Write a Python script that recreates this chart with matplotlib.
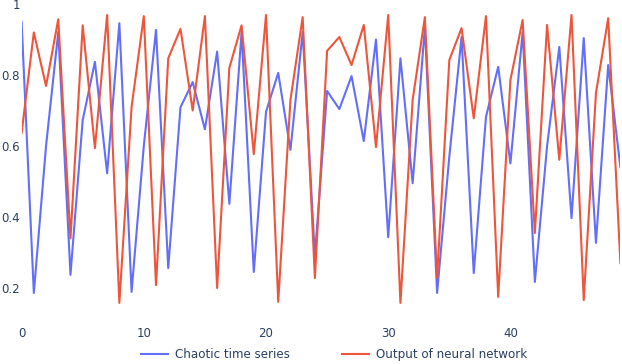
import matplotlib
matplotlib.use("Agg")
import matplotlib.pyplot as plt

# values
steps = list(range(50))
chaotic = [0.95, 0.186, 0.60, 0.921, 0.237, 0.673, 0.837, 0.523, 0.946, 0.189,
           0.60, 0.927, 0.256, 0.709, 0.780, 0.647, 0.866, 0.437, 0.921, 0.245,
           0.696, 0.806, 0.589, 0.921, 0.29, 0.755, 0.704, 0.797, 0.614, 0.90,
           0.343, 0.847, 0.495, 0.935, 0.186, 0.57, 0.907, 0.242, 0.682, 0.823,
           0.551, 0.921, 0.217, 0.60, 0.879, 0.397, 0.904, 0.327, 0.828, 0.54]
network = [0.636, 0.92, 0.769, 0.957, 0.34, 0.94, 0.594, 0.969, 0.158, 0.71,
           0.966, 0.208, 0.847, 0.930, 0.70, 0.966, 0.20, 0.82, 0.94, 0.577,
           0.969, 0.161, 0.73, 0.963, 0.228, 0.868, 0.907, 0.828, 0.941, 0.597,
           0.969, 0.158, 0.73, 0.963, 0.228, 0.842, 0.932, 0.678, 0.966, 0.175,
           0.786, 0.955, 0.355, 0.941, 0.561, 0.969, 0.166, 0.749, 0.96, 0.27]
xticks = [0, 10, 20, 30, 40]
yticks = [0.2, 0.4, 0.6, 0.8, 1.0]
ylabels = ["0.2", "0.4", "0.6", "0.8", "1"]

plt.rcParams["font.family"] = ["DejaVu Sans"]
txt = "#2a3f5f"

fig = plt.figure(figsize=(6.22, 3.64), dpi=100)
ax = fig.add_axes([21.6 / 622, 1 - 310 / 364, 598.8 / 622, 306 / 364])

ax.plot(steps, chaotic, color="#636efa", lw=1.5, label="Chaotic time series")
ax.plot(steps, network, color="#EF553B", lw=1.5, label="Output of neural network")

ax.set_xlim(0, 49)
ax.set_ylim(0.138, 1.0)
ax.set_xticks(xticks)
ax.set_yticks(yticks)
ax.set_yticklabels(ylabels)
ax.tick_params(length=0, labelsize=8.5, colors=txt)
ax.tick_params(axis="x", pad=12)
ax.tick_params(axis="y", pad=1)
for s in ax.spines.values():
    s.set_visible(False)

fig.legend(loc="lower center", bbox_to_anchor=(0.537, -0.022), ncol=2, frameon=False,
           fontsize=8.6, labelcolor=txt, handlelength=2.3, handletextpad=0.6,
           columnspacing=4.3)

fig.savefig("out.png", dpi=100)
